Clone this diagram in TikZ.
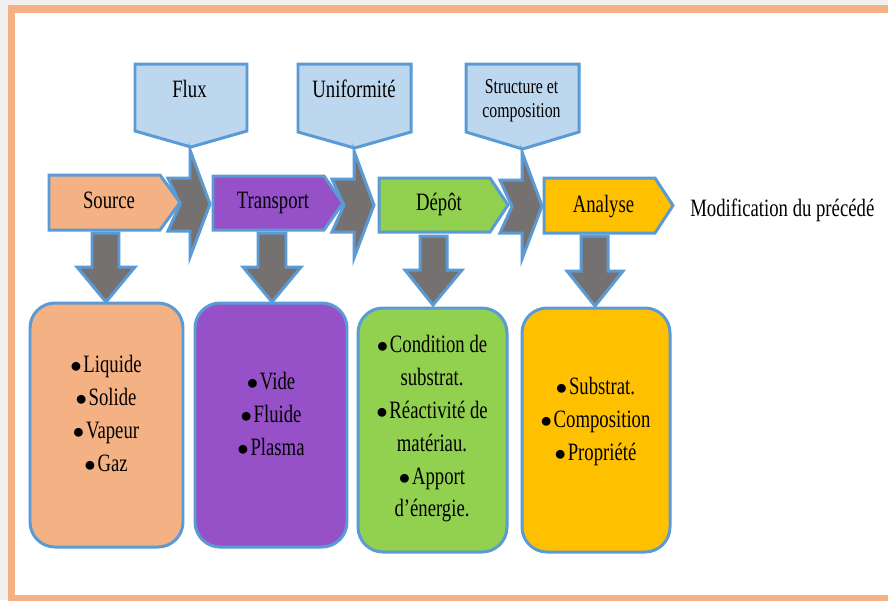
\documentclass[tikz,border=0pt]{standalone}
\usepackage{fontspec}
\setmainfont{Liberation Serif}[FakeStretch=0.75]

\definecolor{frameorange}{HTML}{F4B183}
\definecolor{srcorange}{HTML}{F4B183}
\definecolor{trpurple}{HTML}{9651C8}
\definecolor{depgreen}{HTML}{92D050}
\definecolor{anagold}{HTML}{FFC000}
\definecolor{callblue}{HTML}{BDD7EE}
\definecolor{edgeblue}{HTML}{5B9BD5}
\definecolor{arrowgray}{HTML}{767171}

\newcommand{\pbullet}{\scalebox{0.9}{$\bullet$}\kern1pt}

\begin{document}
\begin{tikzpicture}[x=0.02cm, y=-0.02cm,
    shapeline/.style ={draw=edgeblue, line width=1.7pt, line join=miter},
    callout/.style ={shapeline, fill=callblue},
    blockarrow/.style ={shapeline, fill=arrowgray},
    listbox/.style ={shapeline, rounded corners=0.5cm},
    word/.style ={font=\fontsize{14.2}{18.7}\selectfont, inner sep=0pt, anchor=base},
    smallword/.style ={font=\fontsize{12}{14.2}\selectfont, inner sep=0pt, anchor=base},
    items/.style ={font=\fontsize{14.2}{18.7}\selectfont, inner sep=0pt, anchor=north, align=center}]
   \useasboundingbox (0,0) rectangle (888,600);
   \fill[gray!12] (0,0) rectangle (888,600);
   \begin{scope}
     \clip (0,0) rectangle (888,600);
     \draw[frameorange, line width=4pt, fill=white] (11.5,9) rectangle (905,598);
   \end{scope}

   % callouts on top
   \draw[callout] (135,64) -- (247,64) -- (247,131) -- (191,147) -- (135,131) -- cycle;
   \draw[callout] (298,64) -- (411,64) -- (411,132) -- (354.5,148) -- (298,132) -- cycle;
   \draw[callout] (466,64) -- (579,64) -- (579,132) -- (522.5,149) -- (466,132) -- cycle;

   % notched arrows between the steps
   \draw[blockarrow] (168,178) -- (190,178) -- (190,150) -- (210,204) -- (190,257) -- (190,231) -- (168,231) -- (180,204.5) -- cycle;
   \draw[blockarrow] (332,179) -- (354,179) -- (354,151) -- (374,205) -- (354,258) -- (354,232) -- (332,232) -- (344,205.5) -- cycle;
   \draw[blockarrow] (500,180) -- (522,180) -- (522,152) -- (542,206) -- (522,259) -- (522,233) -- (500,233) -- (512,206.5) -- cycle;

   % steps
   \draw[shapeline, fill=srcorange] (49,175) -- (160,175) -- (180,202.5) -- (160,230) -- (49,230) -- cycle;
   \draw[shapeline, fill=trpurple] (213,176) -- (324,176) -- (343,203) -- (324,230) -- (213,230) -- cycle;
   \draw[shapeline, fill=depgreen] (379,178) -- (490,178) -- (508,205) -- (490,232) -- (379,232) -- cycle;
   \draw[shapeline, fill=anagold] (544,178) -- (655,178) -- (673,205.5) -- (655,233) -- (544,233) -- cycle;

   % boxes
   \draw[listbox, fill=srcorange] (30,303) rectangle (183,547);
   \draw[listbox, fill=trpurple] (195,303) rectangle (347,547);
   \draw[listbox, fill=depgreen] (358,308) rectangle (507,552);
   \draw[listbox, fill=anagold] (522,308) rectangle (670,552);

   % down arrows
   \draw[blockarrow] (92,233) -- (119,233) -- (119,267) -- (135,267) -- (106,302) -- (77,267) -- (92,267) -- cycle;
   \draw[blockarrow] (258,233) -- (286,233) -- (286,267) -- (301,267) -- (272,302) -- (243,267) -- (258,267) -- cycle;
   \draw[blockarrow] (420,236) -- (447,236) -- (447,270) -- (462,270) -- (433,305) -- (405,270) -- (420,270) -- cycle;
   \draw[blockarrow] (581,236) -- (608,236) -- (608,271) -- (623,271) -- (595,306) -- (567,271) -- (581,271) -- cycle;

   % texts
   \node[word] (flux) at (189.5,97) {Flux};
   \node[word] (unif) at (354,97) {Uniformité};
   \node[smallword] (struct1) at (521.5,93) {Structure et};
   \node[smallword] (struct2) at (521.5,117) {composition};
   \node[word] (source) at (109,208) {Source};
   \node[word] (transport) at (273,208) {Transport};
   \node[word] (depot) at (439,210) {Dépôt};
   \node[word] (analyse) at (603.5,212) {Analyse};
   \node[word, anchor=base west] (modif) at (690,216) {Modification du précédé};

   \node[items] (srclist) at (106,355) {\pbullet Liquide\\ \pbullet Solide\\ \pbullet Vapeur\\ \pbullet Gaz};
   \node[items] (trlist) at (271,372) {\pbullet Vide\\ \pbullet Fluide\\ \pbullet Plasma};
   \node[items] (deplist) at (432,335) {\pbullet Condition de\\ substrat.\\ \pbullet Réactivité de\\ matériau.\\ \pbullet Apport\\ d’énergie.};
   \node[items] (analist) at (595.5,377) {\pbullet Substrat.\\ \pbullet Composition\\ \pbullet Propriété};
 \end{tikzpicture}
\end{document}
